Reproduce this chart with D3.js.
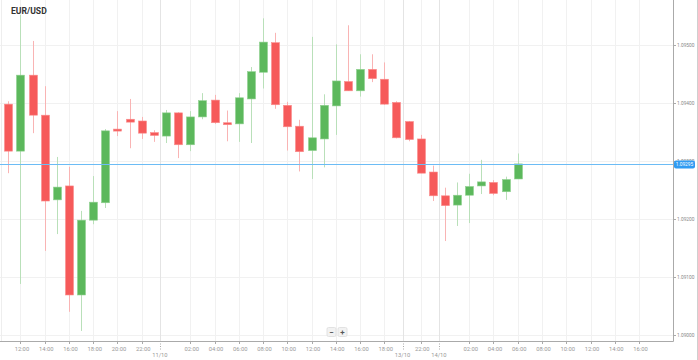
<!DOCTYPE html>
<html><head><meta charset="utf-8">
<script src="https://cdn.jsdelivr.net/npm/d3@7"></script>
<style>body{margin:0;background:#fff;overflow:hidden}svg{display:block}</style>
</head><body><svg id="c" width="698" height="360"></svg>
<script>
// ---- data ----
const times = ["11:00","12:00","13:00","14:00","15:00","16:00","17:00","18:00","19:00","20:00","21:00","22:00","23:00",
  "00:00","01:00","02:00","03:00","04:00","05:00","06:00","07:00","08:00","09:00","10:00","11:00","12:00","13:00","14:00",
  "15:00","16:00","17:00","18:00","19:00","21:00","22:00","23:00","00:00","01:00","02:00","03:00","04:00","05:00","06:00"];
const open  = [1.09398,1.09317,1.09448,1.09379,1.09233,1.09257,1.09069,1.09198,1.09228,1.09355,1.09372,1.09369,1.09349,1.09343,1.09383,1.09328,1.09376,1.09405,1.09366,1.09364,1.09407,1.09453,1.09504,1.09396,1.09360,1.09318,1.09338,1.09395,1.09437,1.09421,1.09458,1.09441,1.09401,1.09368,1.09338,1.09281,1.09240,1.09224,1.09241,1.09257,1.09263,1.09247,1.09269];
const high  = [1.09403,1.09552,1.09507,1.09429,1.09307,1.09290,1.09214,1.09274,1.09355,1.09386,1.09407,1.09376,1.09353,1.09388,1.09384,1.09386,1.09417,1.09414,1.09387,1.09417,1.09462,1.09546,1.09521,1.09402,1.09371,1.09514,1.09415,1.09501,1.09534,1.09484,1.09484,1.09470,1.09403,1.09369,1.09345,1.09292,1.09254,1.09263,1.09278,1.09302,1.09267,1.09273,1.09313];
const low   = [1.09279,1.09088,1.09348,1.09145,1.09174,1.09040,1.09007,1.09191,1.09219,1.09343,1.09322,1.09338,1.09333,1.09331,1.09305,1.09317,1.09372,1.09364,1.09334,1.09333,1.09331,1.09425,1.09390,1.09318,1.09282,1.09269,1.09289,1.09345,1.09421,1.09411,1.09436,1.09397,1.09339,1.09334,1.09279,1.09231,1.09162,1.09188,1.09193,1.09243,1.09241,1.09233,1.09269];
const close = [1.09317,1.09448,1.09379,1.09231,1.09255,1.09069,1.09198,1.09229,1.09352,1.09352,1.09367,1.09348,1.09344,1.09383,1.09328,1.09376,1.09404,1.09366,1.09364,1.09409,1.09454,1.09505,1.09397,1.09359,1.09316,1.09340,1.09396,1.09438,1.09421,1.09458,1.09442,1.09398,1.09340,1.09337,1.09279,1.09240,1.09223,1.09241,1.09256,1.09264,1.09244,1.09268,1.09295];
const currentPrice = 1.09295;
const symbol = "EUR/USD";
const yTicks = [1.090,1.091,1.092,1.093,1.094,1.095];
const timeTickIdx = [1,3,5,7,9,11,15,17,19,21,23,25,27,29,31,34,38,40,42,44,46,48,50,52];
const timeTickLabels = ["12:00","14:00","16:00","18:00","20:00","22:00","02:00","04:00","06:00","08:00","10:00","12:00","14:00","16:00","18:00","22:00","02:00","04:00","06:00","08:00","10:00","12:00","14:00","16:00"];
const dateTickIdx = [12.5,32.5,35.5];
const dateTickLabels = ["11/10","13/10","14/10"];

// ---- layout ----
const svg = d3.select("#c");
const W = 698, H = 360, plotR = 673, plotB = 341;
const x = d3.scaleLinear().domain([0, 52]).range([8.3, 8.3 + 12.13*52]);
const y = d3.scaleLinear().domain([1.090, 1.095]).range([335, 45]);
const FONT = "Roboto, 'Noto Sans', sans-serif";

// grid
const g = svg.append("g");
g.selectAll("line.hg").data(yTicks).join("line")
  .attr("x1",0).attr("x2",plotR).attr("y1",d=>Math.round(y(d))+0.5).attr("y2",d=>Math.round(y(d))+0.5)
  .attr("stroke","#f1f1f1").attr("stroke-width",1);
g.selectAll("line.vg").data(timeTickIdx).join("line")
  .attr("x1",d=>Math.round(x(d))+0.5).attr("x2",d=>Math.round(x(d))+0.5).attr("y1",0).attr("y2",plotB)
  .attr("stroke","#f1f1f1");
g.selectAll("line.dg").data(dateTickIdx).join("line")
  .attr("x1",d=>Math.round(x(d))+0.5).attr("x2",d=>Math.round(x(d))+0.5).attr("y1",0).attr("y2",plotB)
  .attr("stroke","#e4e4e4");
g.append("line").attr("x1",1.5).attr("x2",1.5).attr("y1",0).attr("y2",plotB).attr("stroke","#eeeeee");

// candles
const idx = d3.range(open.length);
const up = i => close[i] >= open[i];
const cg = svg.append("g");
cg.selectAll("line.w").data(idx).join("line")
  .attr("x1",i=>Math.round(x(i))+0.5).attr("x2",i=>Math.round(x(i))+0.5)
  .attr("y1",i=>y(high[i])).attr("y2",i=>y(low[i]))
  .attr("stroke",i=>up(i)?"#b9e0b9":"#f9b4b4").attr("stroke-width",1);
cg.selectAll("rect.b").data(idx).join("rect")
  .attr("x",i=>Math.round(x(i))-3.5).attr("width",8)
  .attr("y",i=>Math.min(y(open[i]),y(close[i])))
  .attr("height",i=>Math.max(2,Math.abs(y(open[i])-y(close[i]))))
  .attr("fill",i=>up(i)?"#5cb85c":"#f65a5a")
  .attr("stroke",i=>up(i)?"#8fd08f":"#fa8c8c").attr("stroke-width",0.6);

// current price line
const cy = Math.round(y(currentPrice))+0.5;
svg.append("line").attr("x1",0).attr("x2",plotR).attr("y1",cy).attr("y2",cy)
  .attr("stroke","#6cbcf5").attr("stroke-width",1.2);

// axes
svg.append("line").attr("x1",plotR+0.5).attr("x2",plotR+0.5).attr("y1",0).attr("y2",plotB+0.5).attr("stroke","#aaa");
svg.append("line").attr("x1",0).attr("x2",plotR+0.5).attr("y1",plotB+0.5).attr("y2",plotB+0.5).attr("stroke","#aaa");
svg.append("line").attr("x1",W-0.5).attr("x2",W-0.5).attr("y1",0).attr("y2",H).attr("stroke","#cfcfcf");

const ya = svg.append("g");
ya.selectAll("line").data(yTicks).join("line")
  .attr("x1",plotR).attr("x2",plotR+3).attr("y1",d=>Math.round(y(d))+0.5).attr("y2",d=>Math.round(y(d))+0.5).attr("stroke","#aaa");
ya.selectAll("text").data(yTicks).join("text")
  .attr("x",plotR+4).attr("y",d=>y(d)).attr("dy","0.35em")
  .attr("font-family",FONT).attr("font-size",4.8).attr("fill","#888")
  .text(d=>d3.format(".5f")(d));

// current price tag
svg.append("rect").attr("x",plotR+1).attr("y",cy-4).attr("width",21).attr("height",8).attr("rx",2)
  .attr("fill","#2f9bf2");
svg.append("text").attr("x",plotR+11.5).attr("y",cy).attr("dy","0.35em").attr("text-anchor","middle")
  .attr("font-family",FONT).attr("font-size",4.8).attr("fill","#fff").text(d3.format(".5f")(currentPrice));

const xa = svg.append("g");
xa.selectAll("line.t").data(timeTickIdx).join("line")
  .attr("x1",d=>Math.round(x(d))+0.5).attr("x2",d=>Math.round(x(d))+0.5).attr("y1",plotB).attr("y2",plotB+3).attr("stroke","#aaa");
xa.selectAll("text.t").data(timeTickIdx).join("text")
  .attr("x",d=>x(d)+1.5).attr("y",348.5).attr("dy","0.35em").attr("text-anchor","middle")
  .attr("font-family",FONT).attr("font-size",5.8).attr("fill","#999")
  .text((d,k)=>timeTickLabels[k]);
xa.selectAll("line.d").data(dateTickIdx).join("line")
  .attr("x1",d=>Math.round(x(d))+0.5).attr("x2",d=>Math.round(x(d))+0.5).attr("y1",plotB).attr("y2",plotB+10)
  .attr("stroke","#aaa").attr("stroke-dasharray","1,1.5");
xa.selectAll("text.d").data(dateTickIdx).join("text")
  .attr("x",d=>x(d)).attr("y",355).attr("dy","0.35em").attr("text-anchor","middle")
  .attr("font-family",FONT).attr("font-size",5.8).attr("fill","#999")
  .text((d,k)=>dateTickLabels[k]);

// title
svg.append("text").attr("x",11).attr("y",14).attr("font-family",FONT).attr("font-weight","bold")
  .attr("font-size",8.6).attr("fill","#333").text(symbol);

// zoom buttons
const zb = svg.append("g");
[["−",331.5],["+",342.5]].forEach(([t,cx])=>{
  zb.append("rect").attr("x",cx-4.5).attr("y",327.5).attr("width",9).attr("height",9).attr("rx",1.5)
    .attr("fill","#f2f2f2").attr("stroke","#e2e2e2");
  zb.append("text").attr("x",cx).attr("y",332).attr("dy","0.35em").attr("text-anchor","middle")
    .attr("font-family",FONT).attr("font-weight","bold").attr("font-size",8).attr("fill","#555").text(t);
});
</script></body></html>
